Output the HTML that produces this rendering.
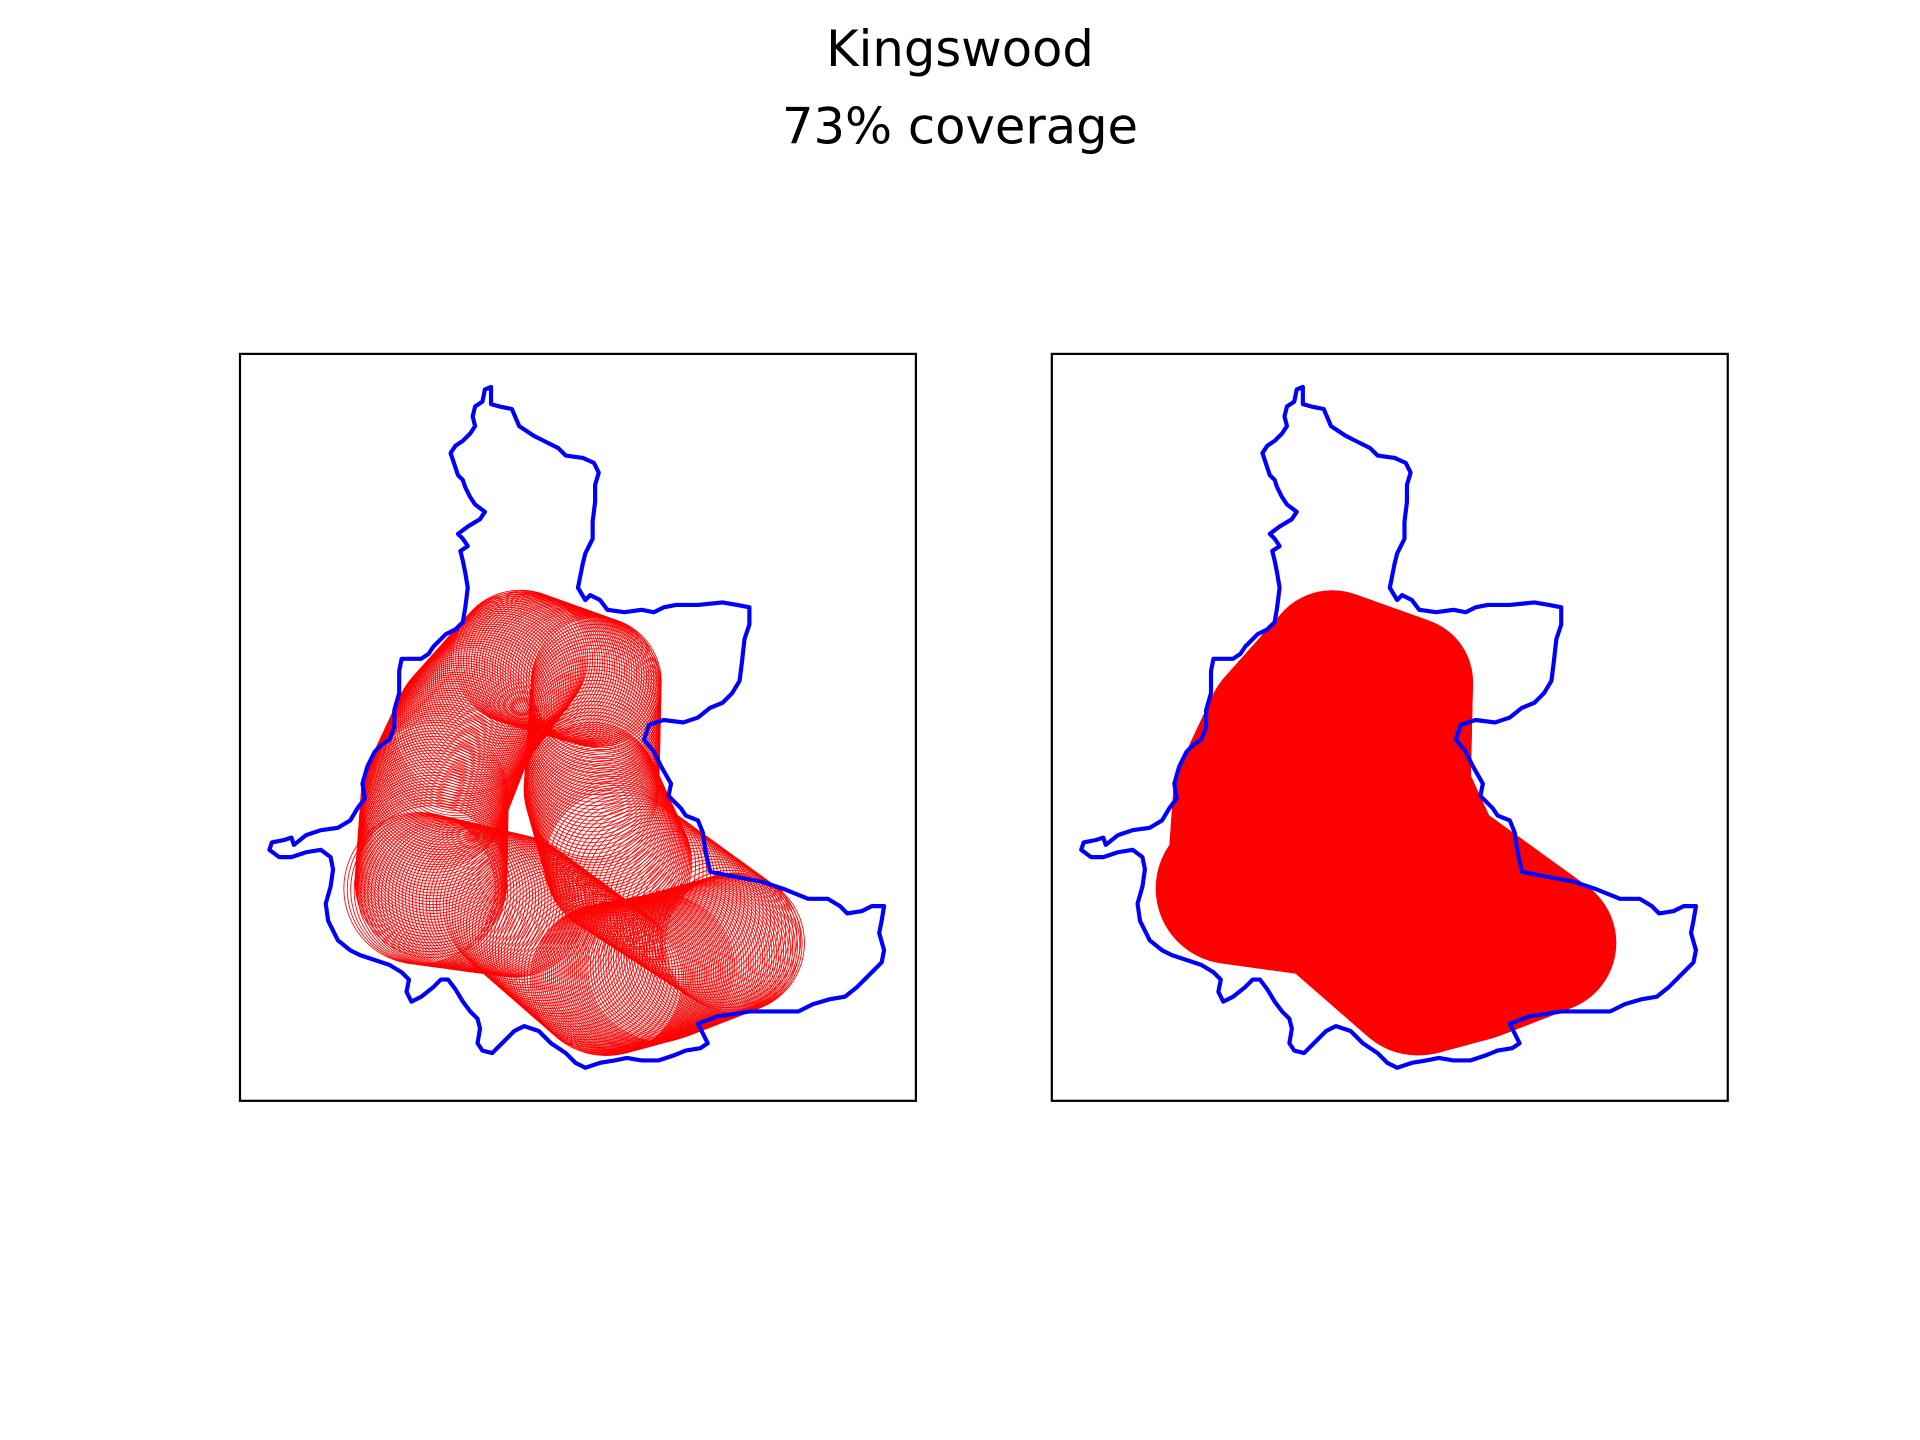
<!DOCTYPE html>
<html><head><meta charset="utf-8"><style>
html,body{margin:0;padding:0;background:#fff;}
svg{display:block;}
</style></head><body>
<svg id="fig" width="1920" height="1440" viewBox="0 0 1568 1176" xmlns="http://www.w3.org/2000/svg">
<rect width="1568" height="1176" fill="#fff"/>
<text x="784" y="54" text-anchor="middle" font-family="DejaVu Sans, Liberation Sans, sans-serif" font-size="40.5">Kingswood</text>
<text x="784" y="117" text-anchor="middle" font-family="DejaVu Sans, Liberation Sans, sans-serif" font-size="40.5">73% coverage</text>
<defs>
<clipPath id="c1"><rect x="196" y="289" width="552" height="610"/></clipPath>
<clipPath id="c2"><rect x="859" y="289" width="552" height="610"/></clipPath>
</defs>
<g id="p1" clip-path="url(#c1)"></g>
<g id="p2" clip-path="url(#c2)"></g>
<rect x="196" y="289" width="552" height="610" fill="none" stroke="#000" stroke-width="1.8"/>
<rect x="859" y="289" width="552" height="610" fill="none" stroke="#000" stroke-width="1.8"/>
</svg>
<script>
const outlineX=[396,401,401,408,418,424,430,436,444,456,462,476,485,489,486,486,484,484,478,476,474,472,478,482,490,496,510,524,534,542,552,570,590,602,612,612,608,606,604,598,590,580,570,558,542,530,526,534,540,548,546,556,560,570,574,576,580,600,622,640,660,676,686,692,704,712,722,720,718,722,720,712,700,690,678,664,652,640,625,612,600,586,570,578,572,560,550,538,524,512,502,490,478,470,462,450,440,428,420,410,402,394,390,392,390,384,378,372,366,360,354,344,336,332,334,328,318,306,294,286,276,268,266,270,272,270,262,250,238,228,220,222,232,238,240,250,262,276,286,292,298,296,300,306,312,318,322,322,326,326,328,336,344,350,354,364,372,378,380,382,380,378,376,382,378,374,382,392,396,388,384,380,378,374,372,370,368,372,378,384,388,386,388,394,396];
const outlineY=[318,316,330,332,334,348,352,356,360,366,372,374,378,386,396,410,426,440,452,460,470,480,490,486,490,498,500,498,500,496,494,494,492,494,496,510,522,540,556,566,574,578,586,590,588,592,604,614,626,640,650,660,666,670,680,694,712,716,720,726,734,734,740,746,744,740,740,752,762,776,786,794,806,814,816,820,826,826,826,826,828,830,836,852,856,858,862,866,866,864,866,868,872,868,860,852,842,838,842,852,860,858,852,840,832,826,818,808,800,800,806,814,818,810,800,794,788,784,780,776,768,752,738,724,710,700,694,696,700,700,694,688,686,684,690,682,678,676,670,660,652,640,626,614,608,604,594,580,566,548,538,538,538,534,528,518,514,508,496,480,468,458,450,446,440,436,430,424,418,412,406,398,392,388,382,376,370,364,360,354,348,340,332,328,318];
const centerX=[352,355,380,425,487,483,505,600,540,495,420,340];
const centerY=[720,650,592,537,557,645,705,770,790,800,740,725];
const radius=[62,60,58,55,53,55,60,57,60,62,58,62];
const stepsPerSegment=30;
const NS='http://www.w3.org/2000/svg';
function draw(g,dx,filled){
  for(let i=0;i<centerX.length-1;i++){
    for(let k=0;k<stepsPerSegment;k++){
      const t=k/stepsPerSegment;
      const c=document.createElementNS(NS,'circle');
      
      
      c.setAttribute('cx',centerX[i]+(centerX[i+1]-centerX[i])*t+dx);
      c.setAttribute('cy',centerY[i]+(centerY[i+1]-centerY[i])*t);
      c.setAttribute('r',radius[i]+(radius[i+1]-radius[i])*t);
      if(filled){c.setAttribute('fill','#ff0000');}
      else{c.setAttribute('fill','none');c.setAttribute('stroke','#ff0000');c.setAttribute('stroke-width','0.7');}
      g.appendChild(c);
    }
  }
  if(filled){
    const f=document.createElementNS(NS,'polygon');
    
    
    f.setAttribute('points',centerX.map((x,i)=>(x+dx)+','+centerY[i]).join(' '));
    f.setAttribute('fill','#ff0000');
    g.appendChild(f);
  }
  const p=document.createElementNS(NS,'polygon');
  
  
  p.setAttribute('points',outlineX.map((x,i)=>(x+dx)+','+outlineY[i]).join(' '));
  p.setAttribute('fill','none');p.setAttribute('stroke','#0000ff');p.setAttribute('stroke-width','3.4');p.setAttribute('stroke-linejoin','round');
  g.appendChild(p);
}
draw(document.getElementById('p1'),0,false);
draw(document.getElementById('p2'),663,true);
</script>
</body></html>
